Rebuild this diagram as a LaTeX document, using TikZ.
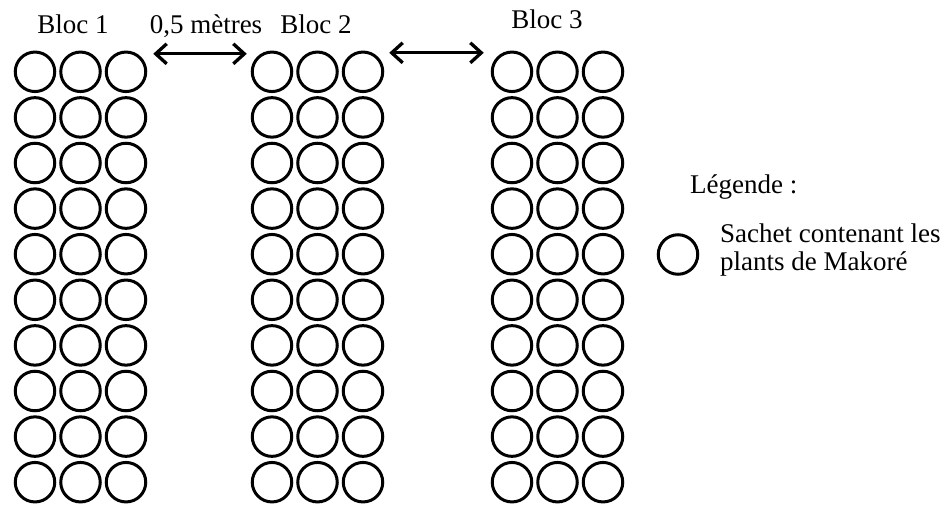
\documentclass[tikz,border=0pt]{standalone}
\usepackage{fontspec}
\setmainfont{Liberation Serif}
\usetikzlibrary{arrows.meta,calc}
\begin{document}
\begin{tikzpicture}[x=1pt,y=-1pt,
  sachet/.style={circle,draw=black,line width=3pt,minimum size=39.5pt,inner sep=0pt},
  lbl/.style={font=\fontsize{27}{28}\selectfont,inner sep=0pt,anchor=base},
  dist/.style={{Straight Barb[length=11pt,width=20pt]}-{Straight Barb[length=11pt,width=20pt]},line width=3.3pt}]
\useasboundingbox (0,0) rectangle (951,506);
% blocks of sachets
\foreach \b/\x in {1/35,2/272,3/512}{
  \foreach \r in {1,...,10}{
    \foreach \c in {1,2,3}{
      \node[sachet] (b\b-\r-\c) at ({\x+45.5*(\c-1)},{71.8+45.6*(\r-1)}) {};
    }
  }
}
% labels
\node[lbl] (l1) at (73,33) {Bloc 1};
\node[lbl] (l2) at (316,33) {Bloc 2};
\node[lbl] (l3) at (547,28) {Bloc 3};
\node[lbl] (ld) at (206,33) {0,5 mètres};
% distance arrows
\coordinate (a1l) at ($(b1-1-3.east)+(6,-18)$);
\coordinate (a1r) at ($(b2-1-1.west)+(-4,-18)$);
\coordinate (a2l) at ($(b2-1-3.east)+(5,-19)$);
\coordinate (a2r) at ($(b3-1-1.west)+(-7,-19)$);
\draw[dist] (a1l) -- (a1r);
\draw[dist] (a2l) -- (a2r);
% legend
\node[lbl,anchor=base west] (lg) at (690,193) {Légende :};
\node[sachet] (lc) at (678,254.5) {};
\node[lbl,anchor=base west] (lt1) at (720,242) {Sachet contenant les};
\node[lbl,anchor=base west] (lt2) at (720,270) {plants de Makoré};
\end{tikzpicture}
\end{document}
